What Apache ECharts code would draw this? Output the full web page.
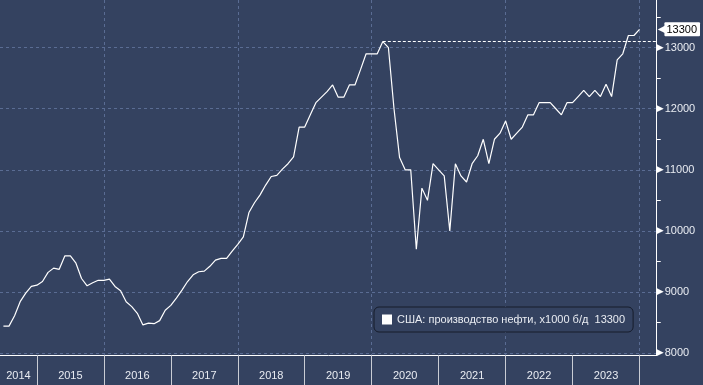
<!DOCTYPE html>
<html><head><meta charset="utf-8">
<script src="https://cdn.jsdelivr.net/npm/echarts@6/dist/echarts.min.js"></script>
<style>html,body{margin:0;padding:0;background:#344260;}#c{width:703px;height:385px;}</style>
</head><body><div id="c"></div>
<script>
// monthly data, first point July 2014
const startYear = 2014;
const startMonth = 7;
const seriesName = 'США: производство нефти, x1000 б/д';
const values = [
  8440, 8440, 8610, 8840, 8980, 9090,            // 2014 Jul-Dec
  9110, 9170, 9320, 9390, 9370, 9590, 9590, 9470, 9220, 9100, 9150, 9190, // 2015
  9190, 9210, 9090, 9020, 8840, 8760, 8650, 8460, 8490, 8480, 8530, 8700, // 2016
  8780, 8900, 9030, 9170, 9280, 9330, 9340, 9420, 9520, 9550, 9550, 9670, // 2017
  9780, 9900, 10300, 10460, 10590, 10750, 10890, 10910, 11010, 11100, 11210, 11700, // 2018
  11700, 11900, 12100, 12190, 12280, 12390, 12190, 12190, 12390, 12390, 12640, 12900, // 2019
  12900, 12900, 13100, 13000, 12000, 11200, 11000, 11000, 9700, 10700, 10500, 11100, // 2020
  11000, 10900, 10000, 11100, 10900, 10800, 11100, 11230, 11500, 11100, 11500, 11600, // 2021
  11800, 11500, 11600, 11700, 11900, 11900, 12100, 12100, 12100, 12000, 11900, 12100, // 2022
  12100, 12200, 12300, 12200, 12300, 12200, 12400, 12200, 12800, 12900, 13200, 13200, // 2023
  13300                                           // 2024 Jan
];
const yearBoundaries = [2015, 2016, 2017, 2018, 2019, 2020, 2021, 2022, 2023, 2024];
const gridYears = [2016, 2018, 2020, 2022, 2024];
const yearLabels = [2014, 2015, 2016, 2017, 2018, 2019, 2020, 2021, 2022, 2023];
const yLabelTicks = [8000, 9000, 10000, 11000, 12000, 13000];
const yMinorTicks = [8000, 8500, 9000, 9500, 10000, 10500, 11000, 11500, 12000, 12500, 13000, 13500];

const xMin = 2014.449, xMax = 2024.257;
const yMin = 7967, yMax = 13781;

const data = values.map((v, i) => [startYear + (startMonth - 1) / 12 + i / 12, v]);
const last = values[values.length - 1];
let peakIdx = 0;
for (let i = 0; i < 80; i++) if (values[i] > values[peakIdx]) peakIdx = i;
const peak = values[peakIdx];

const labelPos = yearLabels.map(y => y === 2014 ? (xMin + 2015) / 2 : y + 0.5);
const FONT = 'Liberation Sans';
const txt = '#e9ecf2';
const gridColor = '#5a6c93';

const chart = echarts.init(document.getElementById('c'));
chart.setOption({
  backgroundColor: '#344260',
  animation: false,
  grid: {left: 0, right: 44, top: 0, bottom: 30},
  xAxis: [
    {
      type: 'value', min: xMin, max: xMax, position: 'bottom',
      axisLine: {show: true, lineStyle: {color: '#ffffff', width: 1}},
      axisTick: {show: true, customValues: yearBoundaries, length: 30, lineStyle: {color: '#c9ccd4', width: 1}},
      axisLabel: {show: true, customValues: labelPos, margin: 15, color: txt, fontSize: 11, fontFamily: FONT,
        formatter: v => String(Math.floor(v))},
      splitLine: {show: false}
    },
    {
      type: 'value', min: xMin, max: xMax, position: 'bottom',
      axisLine: {show: false}, axisLabel: {show: false},
      axisTick: {show: false, customValues: gridYears},
      splitLine: {show: true, lineStyle: {color: gridColor, type: [3, 3], width: 1}}
    }
  ],
  yAxis: [
    {
      type: 'value', min: yMin, max: yMax, position: 'right',
      axisLine: {show: true, lineStyle: {color: '#ffffff', width: 1}},
      axisTick: {show: true, inside: false, customValues: yMinorTicks, length: 4, lineStyle: {color: '#ffffff'}},
      axisLabel: {show: true, customValues: yLabelTicks, margin: 0, fontFamily: FONT,
        formatter: v => '{a|▶}{b|' + v + '}',
        rich: {
          a: {color: '#ffffff', fontSize: 9, fontFamily: 'DejaVu Sans', padding: [0, 1, 0, 0]},
          b: {color: txt, fontSize: 11, fontFamily: FONT}
        }},
      splitLine: {show: false}
    },
    {
      type: 'value', min: yMin, max: yMax, position: 'right',
      axisLine: {show: false}, axisLabel: {show: false},
      axisTick: {show: false, customValues: yLabelTicks},
      splitLine: {show: true, lineStyle: {color: gridColor, type: [3, 3], width: 1}}
    },
    {
      type: 'value', min: yMin, max: yMax, position: 'right',
      axisLine: {show: false}, axisTick: {show: false}, splitLine: {show: false},
      axisLabel: {show: true, customValues: [last], margin: 1, fontFamily: FONT,
        formatter: v => '{a|◀}{b|' + v + '}',
        rich: {
          a: {color: '#ffffff', fontSize: 10, fontFamily: 'DejaVu Sans', padding: [0, -1, 0, 0]},
          b: {color: '#000000', fontSize: 11, fontFamily: FONT, backgroundColor: '#ffffff',
              padding: [2, 3, 1, 2], borderRadius: 1}
        }}
    }
  ],
  legend: {
    left: 374, top: 307, padding: [7, 8, 7, 8],
    itemWidth: 10, itemHeight: 10, icon: 'rect',
    backgroundColor: '#344260', borderColor: '#161c2b', borderWidth: 1, borderRadius: 5,
    textStyle: {color: txt, fontSize: 11, fontFamily: FONT},
    formatter: name => name + '  ' + last,
    data: [seriesName]
  },
  series: [{
    name: seriesName, type: 'line', xAxisIndex: 0, yAxisIndex: 0,
    data: data, showSymbol: false, symbol: 'none',
    lineStyle: {color: '#ffffff', width: 1.2},
    itemStyle: {color: '#ffffff'},
    markLine: {
      silent: true, symbol: 'none', label: {show: false},
      lineStyle: {color: '#ffffff', type: [3, 2], width: 1},
      data: [[{coord: [data[peakIdx][0], peak]}, {coord: [xMax, peak]}]]
    }
  }]
});
</script>
</body></html>
